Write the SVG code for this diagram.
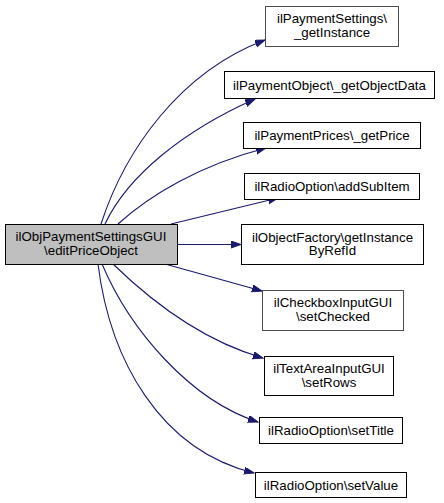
<svg xmlns="http://www.w3.org/2000/svg" width="444" height="503" viewBox="0 0 444 503">
<defs>
<marker id="ah" markerUnits="userSpaceOnUse" markerWidth="11" markerHeight="8" refX="10" refY="3.5" orient="auto">
<path d="M0,0 L10,3.5 L0,7 z" fill="#191970" stroke="#191970" stroke-width="1"/>
</marker>
</defs>
<style>
.n rect{fill:#ffffff;stroke:#000000;stroke-width:1}
.n.g rect{stroke:#4d4d4d}
.n.main rect{fill:#bfbfbf}
text{font-family:"Liberation Sans",Arial,sans-serif;font-size:13.3px;fill:#000000;text-anchor:middle}
#edges path{fill:none;stroke:#191970;stroke-width:1.1;marker-end:url(#ah)}
</style>
<rect width="444" height="503" fill="#ffffff"/>
<g id="edges">
<path d="M101,224 C125,150 180,72 265,40"/>
<path d="M105,224 C128,175 185,130 255,99"/>
<path d="M118,224 C150,195 200,165 266,148"/>
<path d="M171,224 L278,198"/>
<path d="M178,244.5 L241,244.5"/>
<path d="M165,264 L262,291"/>
<path d="M113,264 C150,300 200,340 263,358"/>
<path d="M102,264 C130,330 190,400 258,422"/>
<path d="M98,264 C110,360 160,450 254,473"/>
</g>
<g id="main" class="n main">
<rect x="5.5" y="224.5" width="172" height="40"/>
<text x="91" y="241">ilObjPaymentSettingsGUI</text>
<text x="91" y="254.5">\editPriceObject</text>
</g>
<g id="n1" class="n g">
<rect x="265.5" y="6.5" width="133" height="40"/>
<text x="332" y="23">ilPaymentSettings\</text>
<text x="332" y="36.5">_getInstance</text>
</g>
<g id="n2" class="n">
<rect x="224.5" y="71.5" width="210" height="27"/>
<text x="329.5" y="89.5">ilPaymentObject\_getObjectData</text>
</g>
<g id="n3" class="n">
<rect x="243.5" y="122.5" width="177" height="26"/>
<text x="332" y="140">ilPaymentPrices\_getPrice</text>
</g>
<g id="n4" class="n">
<rect x="244.5" y="173.5" width="175" height="26"/>
<text x="332" y="191">ilRadioOption\addSubItem</text>
</g>
<g id="n5" class="n">
<rect x="241.5" y="224.5" width="182" height="40"/>
<text x="332.5" y="241.5">ilObjectFactory\getInstance</text>
<text x="332.5" y="255">ByRefId</text>
</g>
<g id="n6" class="n g">
<rect x="262.5" y="290.5" width="141" height="40"/>
<text x="333" y="307">ilCheckboxInputGUI</text>
<text x="333" y="320.5">\setChecked</text>
</g>
<g id="n7" class="n">
<rect x="264.5" y="356.5" width="129" height="39"/>
<text x="329" y="373">ilTextAreaInputGUI</text>
<text x="329" y="386.5">\setRows</text>
</g>
<g id="n8" class="n">
<rect x="259.5" y="417.5" width="143" height="26"/>
<text x="331" y="435">ilRadioOption\setTitle</text>
</g>
<g id="n9" class="n">
<rect x="255.5" y="472.5" width="151" height="25"/>
<text x="331" y="489.5">ilRadioOption\setValue</text>
</g>
</svg>
